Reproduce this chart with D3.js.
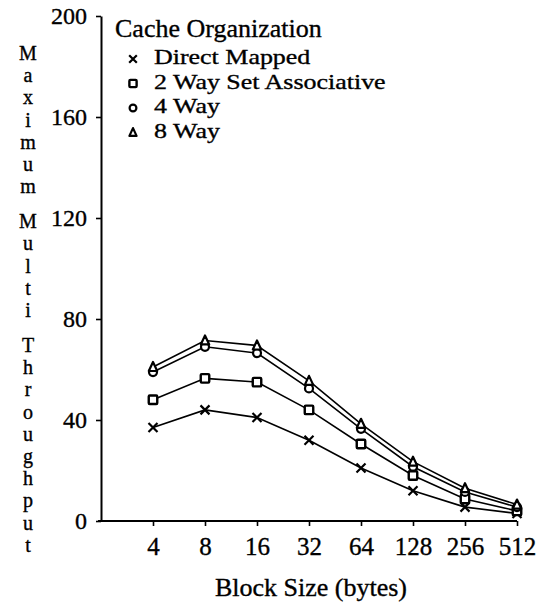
<!DOCTYPE html>
<html>
<head>
<meta charset="utf-8">
<script src="https://d3js.org/d3.v7.min.js"></script>
<style>
  html, body { margin: 0; padding: 0; background: #fff; }
  svg text { font-family: "Liberation Serif", "Times New Roman", Tinos, "DejaVu Serif", serif; fill: #000; stroke: #000; stroke-width: 0.35px; }
</style>
</head>
<body>
<svg id="chart" width="549" height="609"></svg>
<script>
// ---- data ----
const blockSizes = ["4", "8", "16", "32", "64", "128", "256", "512"];
const directMapped = [37, 44, 41, 32, 21, 12, 5.5, 3];
const twoWay = [48, 56.5, 55, 44, 30.5, 18, 8.7, 4];
const fourWay = [59, 69, 66.5, 52.5, 36.5, 21.5, 11.5, 5.5];
const eightWay = [61, 71.5, 69.5, 55.5, 38.5, 23.5, 13, 6.5];
const seriesNames = ["Direct Mapped", "2 Way Set Associative", "4 Way", "8 Way"];
const seriesMarkers = ["cross", "square", "circle", "triangle"];
const yTicks = [0, 40, 80, 120, 160, 200];
const yLabelWords = ["Maximum", "Multi", "Throughput"];
const legendTitle = "Cache Organization";
const xTitle = "Block Size (bytes)";

const seriesValues = [directMapped, twoWay, fourWay, eightWay];
const FONT = '"Liberation Serif", "Times New Roman", Tinos, "DejaVu Serif", serif';

const svg = d3.select("#chart");
const x = d3.scalePoint().domain(blockSizes).range([153, 517]);
const y = d3.scaleLinear().domain([0, 200]).range([521, 16]);
const axisX0 = 101;

// ---- axes ----
const yAxis = svg.append("g")
  .attr("transform", `translate(${axisX0},0)`)
  .call(d3.axisLeft(y).tickValues(yTicks).tickSize(5).tickPadding(9).tickSizeOuter(0));
yAxis.select(".domain").attr("stroke", "#000").attr("stroke-width", 2);
yAxis.selectAll(".tick line").attr("stroke", "#000").attr("stroke-width", 1.6);
yAxis.selectAll(".tick text")
  .style("font-family", FONT)
  .style("font-size", "24px").attr("fill", "#000");

const xAxis = svg.append("g")
  .attr("transform", `translate(0,${y(0)})`)
  .call(d3.axisBottom(x).tickSize(5).tickPadding(11).tickSizeOuter(0));
xAxis.select(".domain").attr("d", `M${axisX0 - 3},0H${x("512")}`)
  .attr("stroke", "#000").attr("stroke-width", 2);
xAxis.selectAll(".tick line").attr("stroke", "#000").attr("stroke-width", 1.6);
xAxis.selectAll(".tick text")
  .style("font-family", FONT)
  .style("font-size", "25px").attr("fill", "#000");

// x title
svg.append("text")
  .attr("x", 311).attr("y", 596)
  .attr("text-anchor", "middle")
  .style("font-family", FONT)
  .style("font-size", "26px")
  .text(xTitle);

// y title: stacked letters
{
  const g = svg.append("g");
  let yy = 60;
  const step = 22.2, gap = 12.8;
  yLabelWords.forEach((w, wi) => {
    if (wi > 0) yy += gap;
    for (const ch of w) {
      g.append("text").attr("x", 28).attr("y", yy)
        .attr("text-anchor", "middle")
        .style("font-family", FONT)
        .style("font-size", "20px").text(ch);
      yy += step;
    }
  });
}

// ---- markers ----
function drawMarker(g, type, cx, cy, k = 1) {
  if (type === "cross") {
    const r = 4.5 * k;
    g.append("path")
      .attr("d", `M${cx - r},${cy - r}L${cx + r},${cy + r}M${cx - r},${cy + r}L${cx + r},${cy - r}`)
      .attr("stroke", "#000").attr("stroke-width", 2.2).attr("fill", "none");
  } else if (type === "square") {
    const s = 8.5 * k;
    g.append("rect").attr("x", cx - s / 2).attr("y", cy - s / 2)
      .attr("width", s).attr("height", s).attr("rx", 1)
      .attr("fill", "#fff").attr("stroke", "#000").attr("stroke-width", 2.4);
  } else if (type === "circle") {
    g.append("circle").attr("cx", cx).attr("cy", cy).attr("r", 4 * k)
      .attr("fill", "#fff").attr("stroke", "#000").attr("stroke-width", 2.2);
  } else {
    const h = 8 * k, w = 4.2 * k;
    g.append("path")
      .attr("d", `M${cx},${cy - h / 2 - 1}L${cx + w},${cy + h / 2}L${cx - w},${cy + h / 2}Z`)
      .attr("fill", "#fff").attr("stroke", "#000").attr("stroke-width", 2.2).attr("stroke-linejoin", "round");
  }
}

// ---- lines ----
const line = d3.line().x((d, i) => x(blockSizes[i])).y(d => y(d));
const plot = svg.append("g");
seriesValues.forEach(vals => {
  plot.append("path").datum(vals).attr("d", line)
    .attr("fill", "none").attr("stroke", "#000").attr("stroke-width", 1.6);
});
seriesValues.forEach((vals, si) => {
  const g = plot.append("g");
  vals.forEach((v, i) => drawMarker(g, seriesMarkers[si], x(blockSizes[i]), y(v)));
});

// ---- legend ----
const leg = svg.append("g");
leg.append("text").attr("x", 115).attr("y", 37)
  .style("font-family", FONT).style("font-size", "26px").text(legendTitle);
seriesNames.forEach((name, i) => {
  const by = 64 + i * 24.5;
  leg.append("text")
    .attr("transform", `translate(154,${by}) scale(1.18,1)`)
    .style("font-family", FONT).style("font-size", "22px").text(name);
  drawMarker(leg, seriesMarkers[i], 133, by - 5, 0.85);
});
</script>
</body>
</html>
